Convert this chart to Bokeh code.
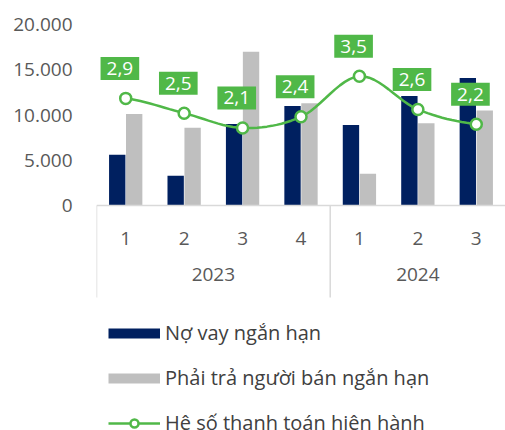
from bokeh.plotting import figure
from bokeh.models import (FactorRange, Range1d, ColumnDataSource, FixedTicker,
                          Legend, LegendItem)
from bokeh.core.properties import value
from bokeh.transform import dodge
from bokeh.embed import file_html
from bokeh.resources import INLINE

# ---- data ----
years = ["2023", "2023", "2023", "2023", "2024", "2024", "2024"]
quarters = ["1", "2", "3", "4", "1", "2", "3"]
no_vay = [5600, 3300, 9000, 11000, 8900, 12100, 14100]
phai_tra = [10100, 8600, 17000, 11300, 3500, 9100, 10500]
he_so = [2.9, 2.5, 2.1, 2.4, 3.5, 2.6, 2.2]
y_ticks = [0, 5000, 10000, 15000, 20000]
y_tick_labels = ["0", "5.000", "10.000", "15.000", "20.000"]
series_names = ["Nợ vay ngắn hạn", "Phải trả người bán ngắn hạn", "Hệ số thanh toán hiện hành"]

NAVY = "#002060"
GREY = "#BFBFBF"
GREEN = "#50B848"
TXT = "#595959"
AX = "#D9D9D9"
FONT = "Open Sans"

# ---- layout (pixels) ----
W, H = 505, 430
TOP, LEFT = 24, 96
ZERO_PX = 205          # y pixel of the value 0
SEP_PX = 297           # bottom of the group separator lines
Y_MAX, R_MAX = 20000, 4.9
plot_px = ZERO_PX - TOP
below_px = H - ZERO_PX
y_min = -Y_MAX * below_px / plot_px
r_min = -R_MAX * below_px / plot_px
sep_y = -Y_MAX * (SEP_PX - ZERO_PX) / plot_px

factors = list(zip(years, quarters))
src = ColumnDataSource(dict(x=factors, a=no_vay, b=phai_tra, r=he_so,
                            lab=[f"{v:.1f}".replace(".", ",") for v in he_so]))
starts = [i for i in range(len(years)) if i == 0 or years[i] != years[i - 1]]
sep_src = ColumnDataSource(dict(x=[(years[i], quarters[i], -0.5) for i in starts],
                                y0=[0] * len(starts), y1=[sep_y] * len(starts)))

xr = FactorRange(*factors, factor_padding=0, group_padding=0, range_padding=0)
p = figure(x_range=xr, y_range=Range1d(y_min, Y_MAX), width=W, height=H,
           output_backend="svg", toolbar_location=None,
           min_border_left=LEFT, min_border_right=0, min_border_top=TOP,
           min_border_bottom=0)
p.extra_y_ranges = {"ratio": Range1d(r_min, R_MAX)}
p.outline_line_color = None
p.grid.grid_line_color = None
p.background_fill_color = None
p.border_fill_color = "white"

# group separators
p.segment(x0="x", x1="x", y0="y0", y1="y1", source=sep_src,
          line_color=AX, line_width=1.5)

# bars
p.vbar(x=dodge("x", -0.145, range=xr), top="a", width=0.28, source=src,
       fill_color=NAVY, line_color=None)
p.vbar(x=dodge("x", 0.145, range=xr), top="b", width=0.28, source=src,
       fill_color=GREY, line_color=None)

# smoothed ratio line (Catmull-Rom through the data points)
def smooth(vals, steps=12):
    xs, ys = [], []
    n = len(vals)
    for i in range(n - 1):
        p0 = vals[max(i - 1, 0)]
        p1 = vals[i]
        p2 = vals[i + 1]
        p3 = vals[min(i + 2, n - 1)]
        for s in range(steps):
            t = s / steps
            y = 0.5 * ((2 * p1) + (-p0 + p2) * t + (2 * p0 - 5 * p1 + 4 * p2 - p3) * t * t
                       + (-p0 + 3 * p1 - 3 * p2 + p3) * t ** 3)
            if t <= 0.5:
                xs.append((years[i], quarters[i], t))
            else:
                xs.append((years[i + 1], quarters[i + 1], t - 1))
            ys.append(y)
    xs.append((years[-1], quarters[-1], 0))
    ys.append(vals[-1])
    return xs, ys

sx, sy = smooth(he_so)
line = p.line(sx, sy, line_color=GREEN, line_width=2.5, y_range_name="ratio")
pts = p.scatter("x", "r", source=src, y_range_name="ratio", size=11,
                fill_color="white", line_color=GREEN, line_width=2.5)

p.text(x=dodge("x", -0.1, range=xr), y="r", text="lab", source=src, y_range_name="ratio",
       y_offset=-30, text_align="center", text_baseline="middle",
       text_color="white", text_font=value(FONT), text_font_size="19px",
       background_fill_color=GREEN, padding=(6, 5))

# axes
p.yaxis.ticker = FixedTicker(ticks=y_ticks)
p.yaxis.major_label_overrides = dict(zip(y_ticks, y_tick_labels))
p.yaxis.axis_line_color = None
p.yaxis.major_tick_line_color = None
p.yaxis.major_tick_out = 0
p.yaxis.major_tick_in = 0
p.yaxis.minor_tick_line_color = None
p.yaxis.major_label_standoff = 24
p.yaxis.major_label_text_font = FONT
p.yaxis.major_label_text_font_size = "19px"
p.yaxis.major_label_text_color = TXT

xa = p.xaxis[0]
xa.fixed_location = 0
xa.axis_line_color = AX
xa.axis_line_width = 1.5
xa.major_tick_line_color = None
xa.major_label_text_font = FONT
xa.major_label_text_font_size = "19px"
xa.major_label_text_color = TXT
xa.major_label_standoff = 20
xa.group_text_font = FONT
xa.group_text_font_size = "19px"
xa.group_text_font_style = "normal"
xa.group_text_line_height = 2.2
xa.group_text_color = TXT
xa.separator_line_color = None

# legend swatches (renderers without visible data)
nan = float("nan")
d1 = p.line([factors[0]], [nan], line_color=NAVY, line_width=10, line_cap="butt")
d2 = p.line([factors[0]], [nan], line_color=GREY, line_width=10, line_cap="butt")
legend = Legend(items=[LegendItem(label=series_names[0], renderers=[d1]),
                       LegendItem(label=series_names[1], renderers=[d2]),
                       LegendItem(label=series_names[2], renderers=[line, pts])],
                location=(12, -6), orientation="vertical",
                glyph_width=52, glyph_height=20, label_height=20,
                spacing=18, padding=0, margin=0, label_standoff=5,
                label_text_font=FONT, label_text_font_size="20px",
                label_text_color="#404040", border_line_color=None,
                background_fill_alpha=0)
p.add_layout(legend, "center")

open("out.html", "w").write(file_html(p, INLINE))
